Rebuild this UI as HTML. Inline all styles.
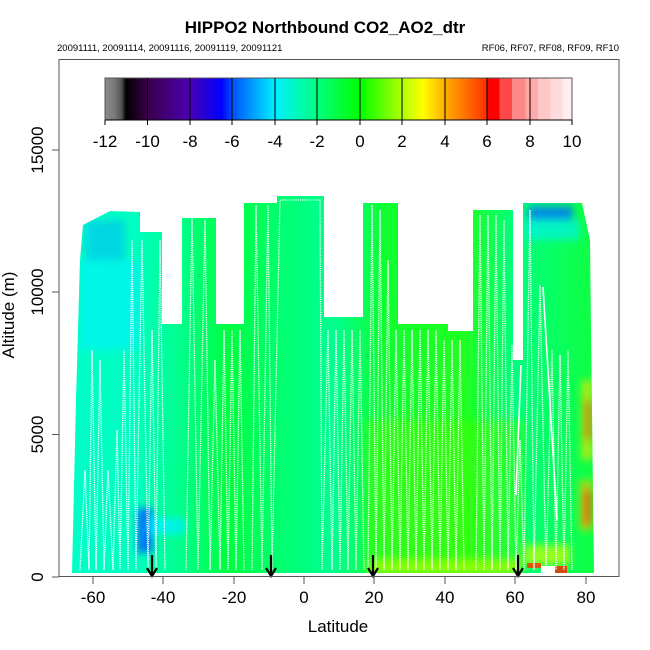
<!DOCTYPE html>
<html><head><meta charset="utf-8"><style>
html,body{margin:0;padding:0;background:#fff;}
svg{display:block;font-family:"Liberation Sans",Arial,sans-serif;}
</style></head><body>
<svg width="650" height="650" viewBox="0 0 650 650" xmlns="http://www.w3.org/2000/svg">
<defs>
<linearGradient id="cb" x1="105" x2="572" y1="0" y2="0" gradientUnits="userSpaceOnUse">
<stop offset="0" stop-color="#8a8a8a"/><stop offset="0.02" stop-color="#7a7a7a"/><stop offset="0.035" stop-color="#555"/><stop offset="0.045" stop-color="#000"/>
<stop offset="0.0909" stop-color="#3a0048"/><stop offset="0.18" stop-color="#4a00b0"/><stop offset="0.25" stop-color="#0000ff"/>
<stop offset="0.2727" stop-color="#0050ff"/><stop offset="0.3636" stop-color="#00f0ff"/><stop offset="0.4545" stop-color="#00ff80"/>
<stop offset="0.5455" stop-color="#00ff00"/><stop offset="0.6364" stop-color="#b0ff00"/><stop offset="0.68" stop-color="#ffff00"/>
<stop offset="0.7273" stop-color="#ffb000"/><stop offset="0.8182" stop-color="#ff3000"/>
<stop offset="0.8182" stop-color="#ff0000"/><stop offset="0.845" stop-color="#ff0000"/>
<stop offset="0.845" stop-color="#ff4848"/><stop offset="0.872" stop-color="#ff4848"/>
<stop offset="0.872" stop-color="#ff8888"/><stop offset="0.9" stop-color="#ff8888"/>
<stop offset="0.9" stop-color="#ffaaaa"/><stop offset="0.927" stop-color="#ffaaaa"/>
<stop offset="0.927" stop-color="#ffc8c8"/><stop offset="0.954" stop-color="#ffc8c8"/>
<stop offset="0.954" stop-color="#ffdcdc"/><stop offset="0.98" stop-color="#ffdcdc"/>
<stop offset="0.98" stop-color="#ffeeee"/><stop offset="1" stop-color="#ffeeee"/>
</linearGradient>
<linearGradient id="base" x1="72" x2="595" y1="0" y2="0" gradientUnits="userSpaceOnUse">
<stop offset="0" stop-color="#00ffc8"/><stop offset="0.12" stop-color="#00ffc0"/><stop offset="0.2" stop-color="#00ff90"/>
<stop offset="0.3" stop-color="#00ff40"/><stop offset="0.4" stop-color="#00ff70"/><stop offset="0.5" stop-color="#00ff90"/>
<stop offset="0.6" stop-color="#10ff30"/><stop offset="0.75" stop-color="#20ff20"/><stop offset="0.85" stop-color="#00ff80"/><stop offset="1" stop-color="#10ff40"/>
</linearGradient>
<filter id="bl"><feGaussianBlur stdDeviation="4"/></filter>
<clipPath id="dc"><path d="M72,573 L76,400 L80,260 L83,225 L110,211 L140,212 L140,232 L162,232 L162,324 L182,324 L182,218 L216,218 L216,324 L244,324 L244,203 L277,203 L277,196 L324,196 L324,317 L363,317 L363,203 L398,203 L398,324 L448,324 L448,331 L473,331 L473,210 L513,210 L513,360 L523,360 L523,203 L582,203 L590,240 L591,330 L594,573 Z"/></clipPath>
</defs>
<text x="325" y="33" text-anchor="middle" font-size="17" font-weight="bold">HIPPO2 Northbound CO2_AO2_dtr</text>
<text x="57" y="51" font-size="9.5">20091111, 20091114, 20091116, 20091119, 20091121</text>
<text x="619" y="51" font-size="9.5" text-anchor="end">RF06, RF07, RF08, RF09, RF10</text>

<g clip-path="url(#dc)">
<rect x="60" y="190" width="550" height="390" fill="url(#base)"/>
<g filter="url(#bl)">
<rect x="85" y="220" width="40" height="40" fill="#00b0ff" opacity="0.5"/>
<rect x="80" y="260" width="60" height="90" fill="#00f0ff" opacity="0.6"/>
<rect x="137" y="508" width="16" height="45" fill="#0060ff" opacity="0.85"/>
<rect x="150" y="518" width="35" height="16" fill="#00f0ff" opacity="0.8"/>
<rect x="528" y="206" width="45" height="14" fill="#0070ff" opacity="0.8"/>
<rect x="525" y="220" width="55" height="20" fill="#00f0ff" opacity="0.6"/>
<rect x="365" y="420" width="160" height="155" fill="#40ff00" opacity="0.5"/>
<rect x="370" y="560" width="150" height="15" fill="#a0ff00" opacity="0.8"/>
<rect x="582" y="380" width="10" height="80" fill="#ffe000" opacity="0.7"/>
<rect x="585" y="400" width="6" height="40" fill="#ff3000" opacity="0.7"/>
<rect x="580" y="480" width="12" height="50" fill="#ffc000" opacity="0.7"/>
<rect x="584" y="490" width="7" height="35" fill="#ff2000" opacity="0.7"/>
<rect x="525" y="545" width="45" height="20" fill="#d0ff00" opacity="0.7"/>
</g>
<rect x="527" y="563" width="14" height="5" fill="#ff3000" opacity="0.8"/>
<rect x="555" y="566" width="12" height="7" fill="#ff2000" opacity="0.8"/>
<rect x="541" y="566" width="14" height="7" fill="#fff"/>
<g stroke="#fff" stroke-width="1.3" stroke-dasharray="1.2 1" fill="none">
<path d="M80,570 L85,470 L89,570 L92,350 L96,570 L100,360 L104,570 L108,470 L113,570 L117,430 L120,570 L124,350 L128,570 L132,240 L136,570 L142,240 L148,570 L152,330 L156,570 L160,240 L165,570"/>
<path d="M186,570 L192,215 L198,570 L205,220 L210,570 L215,360 L220,570 L224,330 L228,570 L232,330 L236,570 L240,330 L244,570"/>
<path d="M252,570 L256,205 L262,570 L268,205 L272,570 L280,200 L320,200 L322,570 L328,330 L332,570 L336,330 L340,570 L344,330 L348,570 L352,330 L356,570 L360,330 L364,570"/>
<path d="M368,570 L372,205 L376,570 L380,210 L384,570 L388,260 L392,570 L396,330 L400,570 L404,330 L408,570 L412,330 L416,570 L420,330 L424,570 L428,330 L432,570 L436,330 L440,570 L444,340 L448,570 L452,340 L456,570 L460,340 L464,570"/>
<path d="M476,570 L480,215 L484,570 L488,215 L492,570 L496,215 L500,570 L504,220 L508,570 L512,345 L516,570 L520,440 L524,570 L530,210 L534,570 L540,285 L546,570 L552,350 L556,570 L560,355 L564,570 L568,350 L572,570"/>
</g>
</g>
<g stroke="#fff" stroke-width="1.6" fill="none">
<path d="M543,287 L557,520"/><path d="M521,365 L516,495"/>
</g>

<rect x="105" y="78" width="467" height="42" fill="url(#cb)" stroke="#555" stroke-width="1"/>
<g stroke="#000" stroke-width="1">
<path d="M147.5,78V120M190,78V120M232,78V120M275,78V120M317,78V120M360,78V120M402,78V120M445,78V120M487,78V120M530,78V120M105,120H572"/>
<path d="M105,120v5M147.5,120v5M190,120v5M232,120v5M275,120v5M317,120v5M360,120v5M402,120v5M445,120v5M487,120v5M530,120v5M572,120v5"/>
</g>
<g font-size="17" text-anchor="middle">
<text x="105" y="147">-12</text><text x="147.5" y="147">-10</text><text x="190" y="147">-8</text><text x="232" y="147">-6</text><text x="275" y="147">-4</text><text x="317" y="147">-2</text><text x="360" y="147">0</text><text x="402" y="147">2</text><text x="445" y="147">4</text><text x="487" y="147">6</text><text x="530" y="147">8</text><text x="572" y="147">10</text>
</g>

<g stroke="#000" stroke-width="2.2" fill="none">
<path d="M152,555V575M147,568L152,576L157,568"/>
<path d="M271,555V575M266,568L271,576L276,568"/>
<path d="M373,555V575M368,568L373,576L378,568"/>
<path d="M518,555V575M513,568L518,576L523,568"/>
</g>

<rect x="59" y="59.5" width="560" height="517" fill="none" stroke="#555" stroke-width="1"/>
<g stroke="#555" stroke-width="1">
<path d="M93,577v7M163,577v7M234,577v7M304,577v7M374,577v7M445,577v7M515,577v7M586,577v7"/>
<path d="M52,577h7M52,434.5h7M52,292h7M52,150h7"/>
</g>
<g font-size="17" text-anchor="middle">
<text x="93" y="603">-60</text><text x="163" y="603">-40</text><text x="234" y="603">-20</text><text x="304" y="603">0</text><text x="374" y="603">20</text><text x="445" y="603">40</text><text x="515" y="603">60</text><text x="586" y="603">80</text>
<text x="338" y="632">Latitude</text>
<text transform="translate(43,577) rotate(-90)">0</text>
<text transform="translate(43,434.5) rotate(-90)">5000</text>
<text transform="translate(43,292) rotate(-90)">10000</text>
<text transform="translate(43,150) rotate(-90)">15000</text>
<text transform="translate(14,315) rotate(-90)">Altitude (m)</text>
</g>
</svg>
</body></html>
